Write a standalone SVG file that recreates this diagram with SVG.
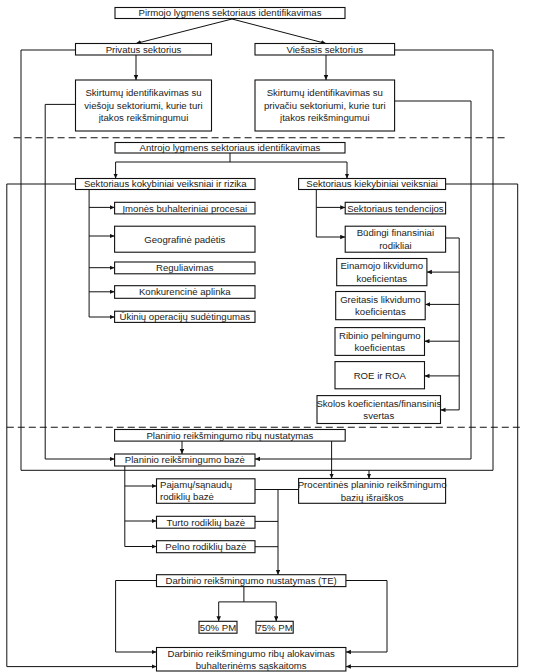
<svg xmlns="http://www.w3.org/2000/svg" width="533" height="672" viewBox="0 0 533 672">
<style>
.b{fill:#fff;stroke:#111;stroke-width:1.1}
.t{font-family:"Liberation Sans",Arial,sans-serif;font-size:9.6px;fill:#222;text-anchor:middle}
.l{text-anchor:start}
.c{fill:none;stroke:#111;stroke-width:1}
.a{fill:none;stroke:#111;stroke-width:1;marker-end:url(#ah)}
.d{fill:none;stroke:#111;stroke-width:1.1;stroke-dasharray:7 4}
</style>
<defs>
<marker id="ah" markerUnits="userSpaceOnUse" markerWidth="6" markerHeight="6" refX="5" refY="2.25" orient="auto">
<path d="M0,0 L5,2.25 L0,4.5 z" fill="#111"/>
</marker>
</defs>
<rect width="533" height="672" fill="#fff"/>
<g id="separators">
<line class="d" x1="13.6" y1="137.8" x2="506.8" y2="137.8"/>
<line class="d" x1="6.8" y1="427.3" x2="520.4" y2="427.3"/>
</g>
<g id="connectors">
<path class="a" d="M232,19 L136,43.5"/>
<path class="a" d="M232,19 L326,43.5"/>
<path class="a" d="M136,55 V80"/>
<path class="a" d="M326,55 V80"/>
<path class="c" d="M75.5,50 H21 V470.3 H493 V50 H394.6"/>
<path class="a" d="M369,470.3 V478.5"/>
<path class="a" d="M75.5,104.4 H45.2 V459 H114.6"/>
<path class="a" d="M394.6,101 H471 V459 H255"/>
<path class="c" d="M230,152.7 V162 M115.6,162 H347"/>
<path class="a" d="M115.6,162 V178.5"/>
<path class="a" d="M347,162 V178.5"/>
<path class="a" d="M75.5,184 H6.8 V666.6 H156.5"/>
<path class="a" d="M445.6,184 H517.7 V666.6 H345.9"/>
<path class="c" d="M89.1,189.4 V317"/>
<path class="a" d="M89.1,207.4 H114.6"/>
<path class="a" d="M89.1,236 H114.6"/>
<path class="a" d="M89.1,267.7 H114.6"/>
<path class="a" d="M89.1,291.8 H114.6"/>
<path class="a" d="M89.1,317 H114.6"/>
<path class="c" d="M316.3,189.4 V237"/>
<path class="a" d="M316.3,207.4 H345.2"/>
<path class="a" d="M316.3,237 H345.2"/>
<path class="c" d="M445.6,238 H459.2 V409.9"/>
<path class="a" d="M459.2,272.1 H426.9"/>
<path class="a" d="M459.2,304.4 H425.2"/>
<path class="a" d="M459.2,341.2 H424.5"/>
<path class="a" d="M459.2,375.9 H424.5"/>
<path class="a" d="M459.2,409.9 H440.5"/>
<path class="a" d="M182,441.1 V454"/>
<path class="a" d="M331.6,441.1 V478.5"/>
<path class="c" d="M124.8,466 V546.5"/>
<path class="a" d="M124.8,486 H156.5"/>
<path class="a" d="M124.8,521 H156.5"/>
<path class="a" d="M124.8,546.5 H156.5"/>
<path class="c" d="M255,489.5 H298.6 M255,521.4 H278 M255,546.7 H278"/>
<path class="a" d="M278,489.5 V574.7"/>
<path class="a" d="M156.5,580.5 H115.6 V652 H156.5"/>
<path class="a" d="M345.9,580.5 H387 V652 H345.9"/>
<path class="c" d="M243.9,586.6 V601.9 M218.7,601.9 H276.2"/>
<path class="a" d="M218.7,601.9 V621.3"/>
<path class="a" d="M276.2,601.9 V621.3"/>
</g>
<g id="n1"><rect class="b" x="115" y="7.5" width="230" height="11"/><text class="t" x="230" y="16.4">Pirmojo lygmens sektoriaus identifikavimas</text></g>
<g id="n2"><rect class="b" x="75.5" y="43.5" width="136" height="11.5"/><text class="t" x="143.5" y="52.7">Privatus sektorius</text></g>
<g id="n3"><rect class="b" x="255" y="43.5" width="139.6" height="11.5"/><text class="t" x="324.8" y="52.7">Viešasis sektorius</text></g>
<g id="n4"><rect class="b" x="75.5" y="80" width="136" height="51"/><text class="t" x="143.5" y="96">Skirtumų identifikavimas su</text><text class="t" x="143.5" y="108.7">viešoju sektoriumi, kurie turi</text><text class="t" x="143.5" y="121.4">įtakos reikšmingumui</text></g>
<g id="n5"><rect class="b" x="255" y="80" width="139.6" height="51"/><text class="t" x="324.8" y="96">Skirtumų identifikavimas su</text><text class="t" x="324.8" y="108.7">privačiu sektoriumi, kurie turi</text><text class="t" x="324.8" y="121.4">įtakos reikšmingumui</text></g>
<g id="n6"><rect class="b" x="115" y="142.5" width="230" height="10.5"/><text class="t" x="230" y="151">Antrojo lygmens sektoriaus identifikavimas</text></g>
<g id="n7"><rect class="b" x="75.5" y="178.5" width="179.5" height="11"/><text class="t" x="165.2" y="187.4">Sektoriaus kokybiniai veiksniai ir rizika</text></g>
<g id="n8"><rect class="b" x="298.6" y="178.5" width="147" height="11"/><text class="t" x="372.1" y="187.4">Sektoriaus kiekybiniai veiksniai</text></g>
<g id="n9"><rect class="b" x="114.6" y="202.3" width="140.4" height="11.6"/><text class="t" x="184.8" y="211.5">Įmonės buhalteriniai procesai</text></g>
<g id="n10"><rect class="b" x="114.6" y="226.2" width="140.4" height="26"/><text class="t" x="184.8" y="242.6">Geografinė padėtis</text></g>
<g id="n11"><rect class="b" x="114.6" y="262" width="140.4" height="11.8"/><text class="t" x="184.8" y="271.3">Reguliavimas</text></g>
<g id="n12"><rect class="b" x="114.6" y="285.7" width="140.4" height="12.6"/><text class="t" x="184.8" y="295.4">Konkurencinė aplinka</text></g>
<g id="n13"><rect class="b" x="114.6" y="311.2" width="140.4" height="11.2"/><text class="t" x="184.8" y="320.2">Ūkinių operacijų sudėtingumas</text></g>
<g id="n14"><rect class="b" x="345.2" y="202.3" width="100.4" height="11.6"/><text class="t" x="395.4" y="211.5">Sektoriaus tendencijos</text></g>
<g id="n15"><rect class="b" x="345.2" y="226.2" width="100.4" height="26"/><text class="t" x="395.4" y="236.4">Būdingi finansiniai</text><text class="t" x="395.4" y="249.2">rodikliai</text></g>
<g id="n16"><rect class="b" x="336.7" y="258.5" width="90.2" height="27.2"/><text class="t" x="381.8" y="269.4">Einamojo likvidumo</text><text class="t" x="381.8" y="281.7">koeficientas</text></g>
<g id="n17"><rect class="b" x="335.7" y="291.5" width="89.5" height="28.2"/><text class="t" x="380.4" y="302.8">Greitasis likvidumo</text><text class="t" x="380.4" y="315.2">koeficientas</text></g>
<g id="n18"><rect class="b" x="335" y="327.6" width="89.5" height="27.8"/><text class="t" x="379.8" y="338.7">Ribinio pelningumo</text><text class="t" x="379.8" y="351.1">koeficientas</text></g>
<g id="n19"><rect class="b" x="335" y="361.6" width="89.5" height="27.2"/><text class="t" x="379.8" y="378.6">ROE ir ROA</text></g>
<g id="n20"><rect class="b" x="317" y="395.6" width="123.5" height="27.9"/><text class="t" x="378.8" y="406.7">Skolos koeficientas/finansinis</text><text class="t" x="378.8" y="419.1">svertas</text></g>
<g id="n21"><rect class="b" x="114.6" y="429.5" width="230.6" height="11.6"/><text class="t" x="229.9" y="438.7">Planinio reikšmingumo ribų nustatymas</text></g>
<g id="n22"><rect class="b" x="114.6" y="454" width="140.4" height="12"/><text class="t" x="184.8" y="463.4">Planinio reikšmingumo bazė</text></g>
<g id="n23"><rect class="b" x="298.6" y="478.5" width="147" height="24.8"/><text class="t" x="372.1" y="488.1">Procentinės planinio reikšmingumo</text><text class="t" x="372.1" y="500.5">bazių išraiškos</text></g>
<g id="n24"><rect class="b" x="156.5" y="478.8" width="98.5" height="24.5"/><text class="t l" x="160" y="488.1">Pajamų/sąnaudų</text><text class="t l" x="160" y="500">rodiklių bazė</text></g>
<g id="n25"><rect class="b" x="156.5" y="516.3" width="98.5" height="11.9"/><text class="t" x="205.8" y="525.6">Turto rodiklių bazė</text></g>
<g id="n26"><rect class="b" x="156.5" y="540.7" width="98.5" height="12"/><text class="t" x="205.8" y="550.1">Pelno rodiklių bazė</text></g>
<g id="n27"><rect class="b" x="156.5" y="574.7" width="189.4" height="11.9"/><text class="t" x="251.2" y="584">Darbinio reikšmingumo nustatymas (TE)</text></g>
<g id="n28"><rect class="b" x="199" y="621.3" width="38" height="11.9"/><text class="t" x="218" y="630.6">50% PM</text></g>
<g id="n29"><rect class="b" x="256" y="621.3" width="37.2" height="11.9"/><text class="t" x="274.6" y="630.6">75% PM</text></g>
<g id="n30"><rect class="b" x="156.5" y="647.5" width="189.4" height="23.5"/><text class="t" x="251.2" y="656.6">Darbinio reikšmingumo ribų alokavimas</text><text class="t" x="251.2" y="668.6">buhalterinėms sąskaitoms</text></g>
</svg>
